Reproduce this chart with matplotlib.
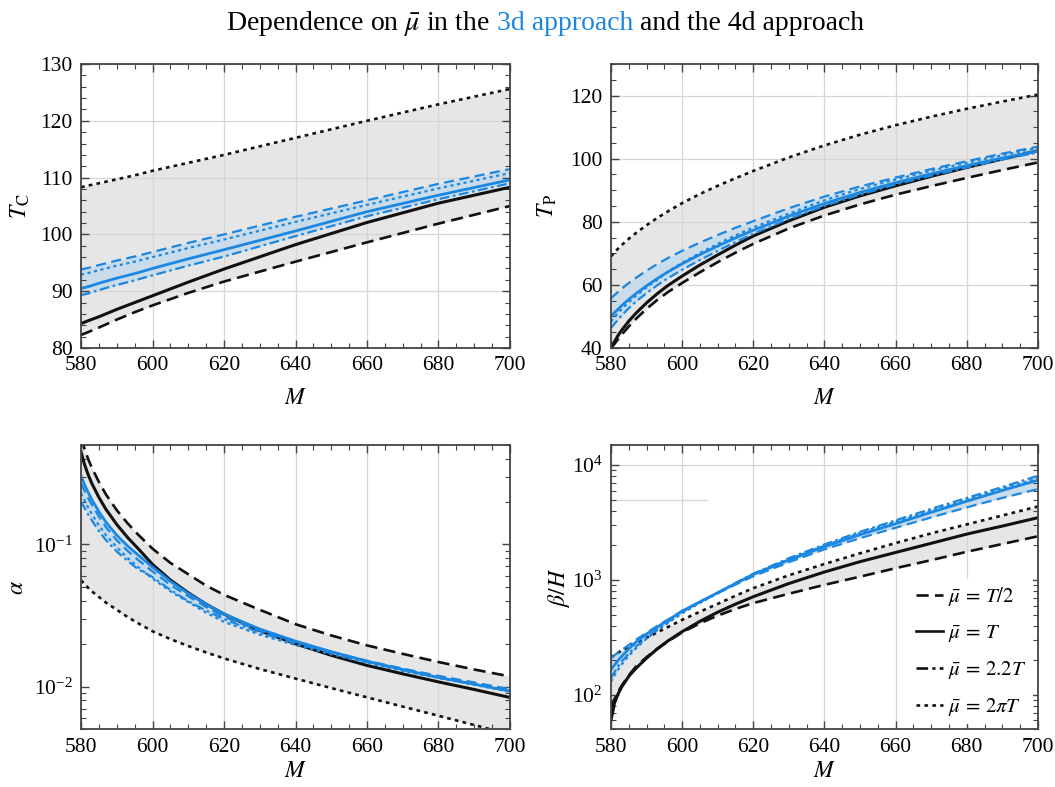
import matplotlib
matplotlib.use("Agg")
import matplotlib.pyplot as plt
import numpy as np
from matplotlib.lines import Line2D
from matplotlib.offsetbox import TextArea, HPacker, AnchoredOffsetbox
from matplotlib.ticker import MultipleLocator, NullFormatter

plt.rcParams["font.family"] = "serif"
plt.rcParams["font.serif"] = ["Liberation Serif", "DejaVu Serif"]
plt.rcParams["mathtext.fontset"] = "stix"

BLUE = "#1c87e0"
BLACK = "#111111"
FRAME = "#444444"
GRID = "#d6d6d6"

# mass grid for the nearly linear T_C curves
m_tc = [580, 582, 585, 590, 595, 600, 610, 620, 640, 660, 680, 700]
# denser grid for the curved panels
m = [580, 581, 582, 583, 585, 587, 590, 593, 596, 600, 605, 610, 615, 620,
     630, 640, 650, 660, 670, 680, 690, 700]

# critical temperature T_C
tc_4d_half = [82.3, 82.8, 83.6, 85.0, 86.3, 87.5, 89.7, 91.7, 95.2, 98.6, 101.9, 105.0]
tc_4d_one = [84.3, 84.8, 85.5, 86.8, 88.0, 89.2, 91.6, 93.9, 98.2, 102.1, 105.5, 108.3]
tc_4d_2pi = [108.3, 108.6, 109.0, 109.7, 110.4, 111.2, 112.6, 114.0, 117.0, 120.0, 122.9, 125.6]
tc_3d_half = [93.8, 94.1, 94.6, 95.4, 96.1, 96.9, 98.5, 100.0, 103.1, 106.0, 108.9, 111.5]
tc_3d_one = [90.5, 90.8, 91.4, 92.3, 93.1, 94.0, 95.7, 97.3, 100.6, 104.0, 106.9, 109.6]
tc_3d_22 = [89.3, 89.6, 90.2, 91.1, 91.9, 92.8, 94.5, 96.1, 99.7, 103.2, 106.2, 109.0]
tc_3d_2pi = [92.9, 93.2, 93.7, 94.5, 95.2, 96.0, 97.6, 99.1, 102.2, 105.2, 108.1, 110.8]

# percolation temperature T_P
tp_4d_half = [40.0, 41.3, 42.8, 44.2, 46.8, 49.2, 52.4, 55.2, 57.7, 60.6, 64.0, 67.2, 70.2,
              73.0, 77.9, 82.0, 85.5, 88.6, 91.3, 93.9, 96.4, 98.8]
tp_4d_one = [40.0, 42.0, 44.0, 45.6, 48.5, 51.0, 54.3, 57.2, 59.8, 62.8, 66.3, 69.5, 72.6,
             75.5, 80.3, 84.6, 88.2, 91.4, 94.4, 97.2, 99.9, 102.5]
tp_4d_2pi = [69.0, 70.3, 71.5, 72.6, 74.6, 76.4, 78.9, 81.2, 83.3, 85.9, 88.8, 91.4, 93.8,
             96.1, 100.4, 104.2, 107.6, 110.6, 113.3, 115.8, 118.1, 120.3]
tp_3d_half = [55.7, 56.8, 57.8, 58.8, 60.6, 62.2, 64.5, 66.6, 68.5, 70.8, 73.4, 75.8, 78.1,
              80.2, 84.3, 88.0, 91.2, 94.0, 96.7, 99.2, 101.6, 103.8]
tp_3d_one = [50.0, 51.2, 52.3, 53.4, 55.4, 57.2, 59.7, 62.0, 64.1, 66.7, 69.6, 72.3, 74.9,
             77.3, 81.8, 85.8, 89.3, 92.4, 95.2, 97.8, 100.2, 102.4]
tp_3d_22 = [46.3, 47.7, 49.0, 50.3, 52.6, 54.7, 57.4, 59.9, 62.1, 64.8, 67.9, 70.8, 73.6,
            76.2, 80.9, 85.0, 88.6, 91.8, 94.6, 97.2, 99.7, 102.0]
tp_3d_2pi = [48.4, 49.8, 51.1, 52.3, 54.5, 56.5, 59.2, 61.6, 64.2, 67.0, 70.1, 73.0, 75.7,
             78.2, 82.6, 86.8, 90.4, 93.4, 96.2, 98.7, 101.1, 103.4]

# transition strength alpha
al_4d_half = [0.562, 0.468, 0.398, 0.347, 0.275, 0.224, 0.174, 0.141, 0.117, 0.0933, 0.0741,
              0.0617, 0.0513, 0.0442, 0.0347, 0.0275, 0.0229, 0.0195, 0.0170, 0.0149, 0.0132, 0.0118]
al_4d_one = [0.447, 0.363, 0.309, 0.269, 0.214, 0.176, 0.138, 0.112, 0.0933, 0.0724, 0.0562,
             0.0457, 0.0380, 0.0324, 0.0248, 0.0200, 0.0166, 0.0141, 0.0123, 0.0108, 0.00955, 0.00839]
al_4d_2pi = [0.0560, 0.0525, 0.0495, 0.0468, 0.0427, 0.0389, 0.0347, 0.0309, 0.0279, 0.0245,
             0.0216, 0.0193, 0.0174, 0.0158, 0.0133, 0.0114, 0.00977, 0.00841, 0.00724, 0.00624,
             0.00537, 0.00462]
al_3d_half = [0.269, 0.237, 0.211, 0.191, 0.157, 0.132, 0.107, 0.0902, 0.0776, 0.0646, 0.0519,
              0.0432, 0.0363, 0.0309, 0.0248, 0.0206, 0.0176, 0.0152, 0.0134, 0.0119, 0.0107, 0.00959]
al_3d_one = [0.302, 0.263, 0.232, 0.207, 0.170, 0.143, 0.116, 0.0977, 0.0841, 0.0692, 0.0550,
             0.0452, 0.0380, 0.0324, 0.0254, 0.0209, 0.0176, 0.0151, 0.0132, 0.0116, 0.0104, 0.00929]
al_3d_22 = [0.200, 0.180, 0.162, 0.148, 0.124, 0.107, 0.0891, 0.0767, 0.0668, 0.0589, 0.0479,
            0.0398, 0.0343, 0.0298, 0.0240, 0.0202, 0.0172, 0.0149, 0.0131, 0.0116, 0.0104, 0.00940]
al_3d_2pi = [0.229, 0.204, 0.182, 0.164, 0.136, 0.116, 0.0955, 0.0804, 0.0692, 0.0575, 0.0468,
             0.0394, 0.0331, 0.0285, 0.0232, 0.0196, 0.0169, 0.0147, 0.0129, 0.0115, 0.0103, 0.00920]

# inverse duration beta/H
bh_4d_half = [78, 92, 106, 120, 148, 176, 213, 252, 292, 350, 420, 490, 560, 630,
              760, 908, 1070, 1268, 1490, 1762, 2060, 2404]
bh_4d_one = [60, 85, 102, 117, 145, 170, 209, 251, 295, 355, 437, 525, 617, 716,
             933, 1175, 1445, 1738, 2089, 2512, 2951, 3490]
bh_4d_2pi = [212, 222, 233, 243, 262, 282, 315, 350, 390, 450, 530, 620, 730, 850,
             1100, 1380, 1710, 2100, 2550, 3050, 3650, 4370]
bh_3d_half = [209, 221, 234, 245, 272, 302, 347, 398, 452, 537, 646, 767, 912, 1079,
              1429, 1849, 2317, 2851, 3508, 4295, 5188, 6194]
bh_3d_one = [166, 182, 200, 216, 251, 288, 339, 389, 447, 537, 646, 776, 933, 1122,
             1496, 1950, 2483, 3090, 3890, 4853, 6026, 7396]
bh_3d_22 = [140, 158, 178, 195, 229, 263, 316, 372, 432, 525, 646, 776, 944, 1135,
            1549, 2042, 2630, 3311, 4169, 5188, 6457, 8091]
bh_3d_2pi = [130, 148, 166, 184, 219, 254, 309, 363, 422, 513, 631, 767, 933, 1122,
             1514, 1995, 2570, 3236, 4027, 5012, 6237, 7691]

legend_labels = [r"$\bar{\mu}\,=\,T/2$", r"$\bar{\mu}\,=\,T$",
                 r"$\bar{\mu}\,=\,2.2T$", r"$\bar{\mu}\,=\,2\pi T$"]

STYLE_HALF = (0, (4.6, 2.4))
STYLE_22 = (0, (4.4, 1.6, 1.2, 1.6))
STYLE_2PI = (0, (1.4, 1.6))


def draw_panel(ax, x, four_d, three_d):
    half4, one4, pi4 = [np.asarray(v, dtype=float) for v in four_d]
    half3, one3, c3, pi3 = [np.asarray(v, dtype=float) for v in three_d]
    lo4 = np.minimum.reduce([half4, one4, pi4])
    hi4 = np.maximum.reduce([half4, one4, pi4])
    lo3 = np.minimum.reduce([half3, one3, c3, pi3])
    hi3 = np.maximum.reduce([half3, one3, c3, pi3])
    ax.fill_between(x, lo4, hi4, color="#e6e6e6", lw=0, zorder=0.6)
    ax.fill_between(x, lo3, hi3, color="#c9dcec", lw=0, zorder=0.7)
    ax.plot(x, half4, color=BLACK, lw=1.9, ls=STYLE_HALF, zorder=2.1)
    ax.plot(x, pi4, color=BLACK, lw=1.9, ls=STYLE_2PI, zorder=2.1)
    ax.plot(x, one4, color=BLACK, lw=2.2, zorder=2.2)
    ax.plot(x, half3, color=BLUE, lw=1.6, ls=STYLE_HALF, zorder=2.3)
    ax.plot(x, pi3, color=BLUE, lw=1.6, ls=STYLE_2PI, zorder=2.3)
    ax.plot(x, c3, color=BLUE, lw=1.6, ls=STYLE_22, zorder=2.3)
    ax.plot(x, one3, color=BLUE, lw=2.0, zorder=2.4)


def style_frame(ax, log=False, xpad=9):
    ax.set_xlim(580, 700)
    ax.xaxis.set_major_locator(MultipleLocator(20))
    ax.xaxis.set_minor_locator(MultipleLocator(5))
    for s in ax.spines.values():
        s.set_color(FRAME)
        s.set_linewidth(1.3)
    ax.tick_params(which="both", direction="in", top=True, right=True,
                   color=FRAME, labelsize=15.5, pad=6)
    ax.tick_params(which="major", length=6, width=1.0)
    ax.tick_params(which="minor", length=3.5, width=0.8)
    if log:
        ax.yaxis.set_minor_formatter(NullFormatter())
    ax.set_xlabel(r"$M$", fontsize=17, labelpad=xpad)


fig = plt.figure(figsize=(10.55, 7.87), dpi=100)

ax1 = fig.add_axes([0.0768, 0.5578, 0.4066, 0.3609])
ax2 = fig.add_axes([0.5791, 0.5578, 0.4047, 0.3609])
ax3 = fig.add_axes([0.0768, 0.0731, 0.4066, 0.3615])
ax4 = fig.add_axes([0.5791, 0.0731, 0.4047, 0.3615])

# T_C
draw_panel(ax1, m_tc, (tc_4d_half, tc_4d_one, tc_4d_2pi),
           (tc_3d_half, tc_3d_one, tc_3d_22, tc_3d_2pi))
style_frame(ax1)
ax1.set_ylim(80, 130)
ax1.yaxis.set_major_locator(MultipleLocator(10))
ax1.yaxis.set_minor_locator(MultipleLocator(2))
ax1.grid(True, which="major", color=GRID, lw=0.9)
ax1.set_axisbelow("line")
ax1.set_ylabel(r"$T_{\mathrm{C}}$", fontsize=17, labelpad=6)

# T_P
draw_panel(ax2, m, (tp_4d_half, tp_4d_one, tp_4d_2pi),
           (tp_3d_half, tp_3d_one, tp_3d_22, tp_3d_2pi))
style_frame(ax2)
ax2.set_ylim(40, 130)
ax2.yaxis.set_major_locator(MultipleLocator(20))
ax2.yaxis.set_minor_locator(MultipleLocator(5))
ax2.grid(True, which="major", color=GRID, lw=0.9)
ax2.set_axisbelow("line")
ax2.set_ylabel(r"$T_{\mathrm{P}}$", fontsize=17, labelpad=8)

# alpha
ax3.set_yscale("log")
draw_panel(ax3, m, (al_4d_half, al_4d_one, al_4d_2pi),
           (al_3d_half, al_3d_one, al_3d_22, al_3d_2pi))
style_frame(ax3, log=True, xpad=3)
ax3.set_ylim(0.005, 0.5)
ax3.grid(True, axis="x", which="major", color=GRID, lw=0.9)
ax3.set_axisbelow("line")
ax3.set_ylabel(r"$\alpha$", fontsize=17, labelpad=4)

# beta/H
ax4.set_yscale("log")
draw_panel(ax4, m, (bh_4d_half, bh_4d_one, bh_4d_2pi),
           (bh_3d_half, bh_3d_one, bh_3d_22, bh_3d_2pi))
style_frame(ax4, log=True, xpad=3)
ax4.set_ylim(50, 1.5e4)
ax4.grid(True, axis="x", which="major", color=GRID, lw=0.9)
ax4.axhline(1e4, color=GRID, lw=0.9, zorder=1.5)
ax4.axhline(5e3, xmax=0.225, color=GRID, lw=0.9, zorder=1.5)
ax4.set_axisbelow("line")
ax4.set_ylabel(r"$\beta/H$", fontsize=17, labelpad=0)

handles = [
    Line2D([], [], color=BLACK, lw=1.9, ls=STYLE_HALF),
    Line2D([], [], color=BLACK, lw=1.9),
    Line2D([], [], color=BLACK, lw=1.9, ls=STYLE_22),
    Line2D([], [], color=BLACK, lw=1.9, ls=STYLE_2PI),
]
leg = ax4.legend(handles, legend_labels, loc="lower right", fontsize=15,
                 frameon=True, facecolor="white", edgecolor="none", framealpha=1,
                 handlelength=1.3, handletextpad=0.25, labelspacing=0.72,
                 borderaxespad=0.25, borderpad=0.3, fancybox=False)
leg.set_zorder(5)

# two-colour figure title
parts = [
    (r"Dependence on $\bar{\mu}$ in the", "black"),
    ("3d approach", BLUE),
    ("and the 4d approach", "black"),
]
boxes = [TextArea(s, textprops=dict(color=c, fontsize=20)) for s, c in parts]
title = HPacker(children=boxes, align="baseline", pad=0, sep=5)
anchored = AnchoredOffsetbox(loc="center", child=title, pad=0, borderpad=0, frameon=False,
                             bbox_to_anchor=(0.517, 0.970), bbox_transform=fig.transFigure)
fig.add_artist(anchored)

fig.savefig("out.png", dpi=100)
